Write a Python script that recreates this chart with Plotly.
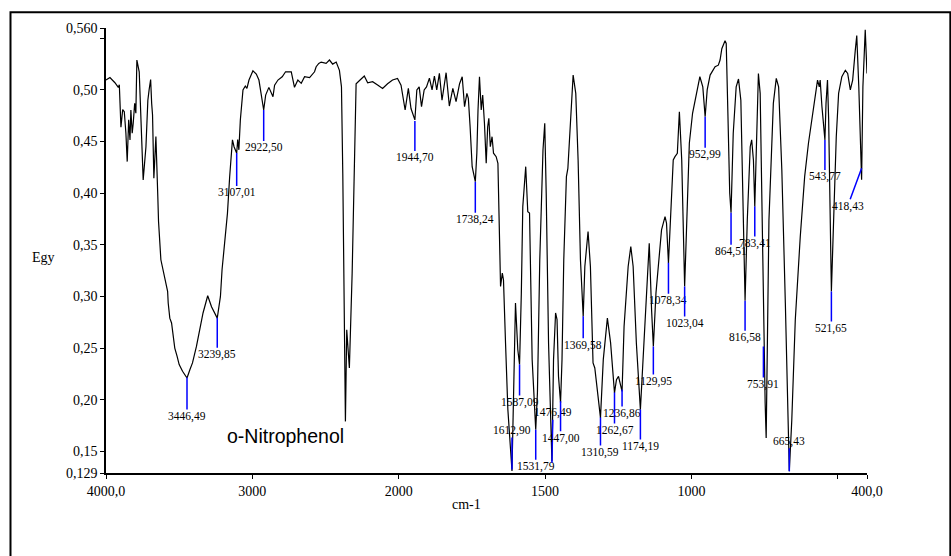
import numpy as np
import plotly.graph_objects as go

# ---------------- data ----------------
wavenumber = [4000, 3973, 3939, 3916, 3909, 3898, 3886, 3875, 3864, 3855, 3845, 3836, 3830, 3821, 3814,
              3804, 3796, 3789, 3773, 3746, 3727, 3714, 3705, 3695, 3688, 3682, 3673, 3659, 3646, 3641,
              3625, 3605, 3593, 3579, 3575, 3564, 3552, 3541, 3530, 3514, 3500, 3477, 3446.49, 3427, 3409,
              3382, 3359, 3337, 3305, 3279, 3239.85, 3218, 3207, 3189, 3170, 3155, 3136, 3125, 3107.01, 3100,
              3092, 3082, 3064, 3048, 3037, 3023, 2996, 2973, 2955, 2922.5, 2909, 2887, 2870, 2859, 2848,
              2825, 2796, 2773, 2734, 2712, 2689, 2666, 2643, 2609, 2575, 2564, 2546, 2530, 2496, 2473,
              2451, 2427, 2405, 2391, 2382, 2373, 2364, 2355, 2337, 2318, 2303, 2291, 2264, 2235, 2212,
              2178, 2144, 2110, 2076, 2042, 2008, 1992, 1978, 1967, 1958, 1944.7, 1938, 1930, 1922, 1913,
              1905, 1895, 1886, 1878, 1870, 1861, 1852, 1838, 1827, 1815, 1804, 1792, 1783, 1775, 1767,
              1762, 1756, 1749, 1738.24, 1733, 1729, 1724, 1718, 1713, 1707, 1701, 1696, 1692, 1687, 1681,
              1676, 1667, 1661, 1656, 1652, 1646, 1642, 1635, 1627, 1612.9, 1606, 1601, 1593, 1587.09, 1581,
              1576, 1566, 1559, 1553, 1544, 1531.79, 1526, 1518, 1507, 1501, 1496, 1488, 1476.49, 1471, 1464,
              1459, 1454, 1447, 1442, 1436, 1427, 1422, 1413, 1404, 1395, 1387, 1379, 1369.58, 1364, 1353,
              1345, 1336, 1330, 1324, 1310.59, 1301, 1287, 1276, 1262.67, 1256, 1249, 1236.86, 1230, 1216, 1207,
              1199, 1188, 1174.19, 1168, 1159, 1144, 1136, 1129.95, 1121, 1110, 1102, 1090, 1085, 1078.34, 1070,
              1062, 1056, 1048, 1041, 1033, 1023.04, 1016, 1007, 996, 984, 971, 961, 952.99, 946, 936,
              919, 908, 902, 896, 885, 881, 875, 869, 864.51, 857, 847, 839, 831, 824, 820,
              816.58, 809, 799, 794, 788, 783.41, 778, 771, 765, 759, 753.91, 748, 744.5, 735, 720,
              710, 702, 691, 679, 670, 665.43, 657, 645, 628, 613, 600, 588, 577, 569, 563,
              560, 554, 543.77, 540, 535, 531, 526, 521.65, 514, 505, 497, 486, 474, 466, 457,
              449, 440, 435, 428, 418.43, 414, 406, 400]

absorbance = [0.5096, 0.512, 0.507, 0.5025, 0.505, 0.464, 0.481, 0.479, 0.458, 0.4306, 0.471, 0.4515, 0.4806, 0.458, 0.4677,
              0.487, 0.4774, 0.529, 0.5176, 0.4129, 0.445, 0.490, 0.5006, 0.510, 0.487, 0.4757, 0.4145, 0.455, 0.3967, 0.3725,
              0.3355, 0.3226, 0.313, 0.305, 0.2936, 0.279, 0.2743, 0.263, 0.250, 0.242, 0.234, 0.2275, 0.221, 0.229, 0.2356,
              0.2516, 0.2678, 0.284, 0.3007, 0.290, 0.279, 0.300, 0.3258, 0.355, 0.3807, 0.416, 0.4516, 0.445, 0.4387, 0.452,
              0.442, 0.471, 0.500, 0.5038, 0.5016, 0.5096, 0.5186, 0.5154, 0.5096, 0.4806, 0.495, 0.5025, 0.4967, 0.4934, 0.5047,
              0.5096, 0.5128, 0.5176, 0.5176, 0.5025, 0.5096, 0.5064, 0.5128, 0.512, 0.5176, 0.5225, 0.5257, 0.527, 0.5257, 0.529,
              0.525, 0.527, 0.519, 0.503, 0.419, 0.290, 0.179, 0.2678, 0.2307, 0.3226, 0.419, 0.506, 0.5096, 0.5135, 0.507,
              0.508, 0.5047, 0.5015, 0.506, 0.5096, 0.5112, 0.5047, 0.4806, 0.5015, 0.482, 0.471, 0.500, 0.503, 0.4838, 0.500,
              0.503, 0.5115, 0.500, 0.5135, 0.500, 0.516, 0.490, 0.5167, 0.4844, 0.5015, 0.4886, 0.506, 0.5128, 0.4838, 0.4967,
              0.4918, 0.4644, 0.4257, 0.4112, 0.4387, 0.4806, 0.5128, 0.4806, 0.495, 0.4677, 0.429, 0.4644, 0.4725, 0.445, 0.4547,
              0.4387, 0.4354, 0.429, 0.374, 0.3097, 0.3226, 0.316, 0.255, 0.1904, 0.131, 0.2226, 0.2936, 0.2484, 0.234, 0.3033,
              0.387, 0.4257, 0.382, 0.3807, 0.2388, 0.171, 0.2066, 0.3355, 0.4419, 0.4677, 0.400, 0.255, 0.1404, 0.2388, 0.284,
              0.2775, 0.2226, 0.197, 0.2388, 0.3355, 0.416, 0.424, 0.4644, 0.5144, 0.4967, 0.4322, 0.3355, 0.2807, 0.329, 0.3629,
              0.329, 0.2356, 0.2307, 0.2162, 0.1824, 0.2388, 0.279, 0.255, 0.2066, 0.2194, 0.2226, 0.208, 0.271, 0.329, 0.3484,
              0.329, 0.255, 0.1904, 0.2226, 0.271, 0.3516, 0.287, 0.2516, 0.3033, 0.342, 0.3645, 0.3774, 0.371, 0.3323, 0.3839,
              0.4322, 0.4354, 0.4387, 0.4789, 0.4322, 0.3097, 0.3677, 0.4484, 0.4774, 0.493, 0.5128, 0.503, 0.474, 0.500, 0.5144,
              0.5225, 0.524, 0.529, 0.540, 0.5477, 0.545, 0.474, 0.400, 0.381, 0.458, 0.503, 0.5106, 0.490, 0.3935, 0.330,
              0.2958, 0.374, 0.445, 0.4516, 0.432, 0.387, 0.4547, 0.516, 0.4967, 0.390, 0.260, 0.197, 0.163, 0.374, 0.487,
              0.5112, 0.503, 0.4225, 0.2936, 0.180, 0.1308, 0.180, 0.2775, 0.358, 0.416, 0.4484, 0.474, 0.4967, 0.5096, 0.503,
              0.5096, 0.484, 0.4516, 0.487, 0.5096, 0.471, 0.374, 0.3048, 0.374, 0.4547, 0.4967, 0.5128, 0.519, 0.516, 0.500,
              0.5096, 0.5386, 0.5526, 0.503, 0.413, 0.503, 0.5584, 0.516]

# picked peaks: wavenumber and the absorbance where each marker line starts
peak_wn = [3446.49, 3239.85, 3107.01, 2922.50, 1944.70, 1738.24, 1612.90, 1587.09, 1531.79, 1476.49,
           1447.00, 1369.58, 1310.59, 1262.67, 1236.86, 1174.19, 1129.95, 1078.34, 1023.04, 952.99,
           864.51, 816.58, 783.41, 753.91, 665.43, 543.77, 521.65, 418.43]
peak_val = [0.2214, 0.2794, 0.439, 0.4806, 0.470, 0.4112, 0.1324, 0.234, 0.171, 0.139,
            0.1985, 0.2807, 0.1827, 0.2069, 0.2098, 0.1904, 0.2516, 0.3326, 0.3097, 0.474,
            0.381, 0.2958, 0.387, 0.2516, 0.1308, 0.4516, 0.3048, 0.4242]

x_tick_values = [4000, 3000, 2000, 1500, 1000, 500, 400]
x_tick_text = ["4000,0", "3000", "2000", "1500", "1000", "", "400,0"]
y_tick_values = [0.129, 0.15, 0.20, 0.25, 0.30, 0.35, 0.40, 0.45, 0.50, 0.55, 0.560]
y_tick_text = ["0,129", "0,15", "0,20", "0,25", "0,30", "0,35", "0,40", "0,45", "0,50", "", "0,560"]

# label offsets (pixels) relative to the start of each marker line
label_dx = [0, 0, 0, 0, 0, 0, 0, 0, 0, 1,
            0, 0, 0, 0, 0, 0, 0, 0, 0, 0,
            0, 0, 0, 0, 0, 0, 0, -14]
label_dy = [39, 37, 40, 38, 37, 38, -39, 38, 37, -50,
            37, 29, 35, 38, 24, 37, 35, 38, 37, 38,
            39, 37, 37, 38, -30, 37, 37, 38]


def split_scale(w):
    """FTIR split abscissa: 4000-2000 cm-1 drawn at half the scale of 2000-400 cm-1."""
    w = np.asarray(w, dtype=float)
    return np.where(w > 2000, 2000 + (w - 2000) / 2.0, w)


serif = "Liberation Serif, Times New Roman, serif"

fig = go.Figure()
fig.add_trace(go.Scatter(
    x=split_scale(wavenumber), y=absorbance, mode="lines",
    line=dict(color="black", width=1.2), hoverinfo="skip", showlegend=False))

annotations = []
for w, v, dx, dy in zip(peak_wn, peak_val, label_dx, label_dy):
    annotations.append(dict(
        x=float(split_scale(w)), y=v, xref="x", yref="y",
        text=f"{w:.2f}".replace(".", ","), showarrow=True, arrowhead=0,
        arrowwidth=1.5, arrowcolor="#0000ff", standoff=0, ax=dx, ay=dy,
        font=dict(family=serif, size=11.5, color="black"), borderpad=0))

annotations += [
    dict(text="Egy", x=-0.0815, y=0.4835, xref="paper", yref="paper", showarrow=False,
         xanchor="center", yanchor="middle", font=dict(family=serif, size=14, color="black")),
    dict(text="cm-1", x=0.474, y=-0.071, xref="paper", yref="paper", showarrow=False,
         xanchor="center", yanchor="middle", font=dict(family=serif, size=14, color="black")),
    dict(text="o-Nitrophenol", x=split_scale(3190).item(), y=0.1646, xref="x", yref="y",
         showarrow=False, xanchor="left", yanchor="middle",
         font=dict(family="Liberation Sans, Arial, sans-serif", size=19.5, color="black")),
]

fig.update_layout(
    width=951, height=556,
    margin=dict(l=106, r=84, t=28, b=83),
    paper_bgcolor="white", plot_bgcolor="white",
    annotations=annotations,
    shapes=[dict(type="rect", xref="paper", yref="paper",
                 x0=-0.1255, x1=1.1095, y0=-0.19, y1=1.0355,
                 line=dict(color="black", width=2), fillcolor="rgba(0,0,0,0)", layer="below")],
    xaxis=dict(range=[3000, 400], tickmode="array",
               tickvals=split_scale(x_tick_values).tolist(), ticktext=x_tick_text,
               showgrid=False, zeroline=False, showline=True, linecolor="black", linewidth=1.5,
               ticks="outside", ticklen=4, tickwidth=1.2, tickcolor="black",
               tickfont=dict(family=serif, size=14, color="black")),
    yaxis=dict(range=[0.129, 0.560], tickmode="array",
               tickvals=y_tick_values, ticktext=y_tick_text,
               showgrid=False, zeroline=False, showline=True, linecolor="black", linewidth=1.5,
               ticks="outside", ticklen=4, tickwidth=1.2, tickcolor="black",
               tickfont=dict(family=serif, size=14, color="black")),
)

fig.write_html("out.html")
